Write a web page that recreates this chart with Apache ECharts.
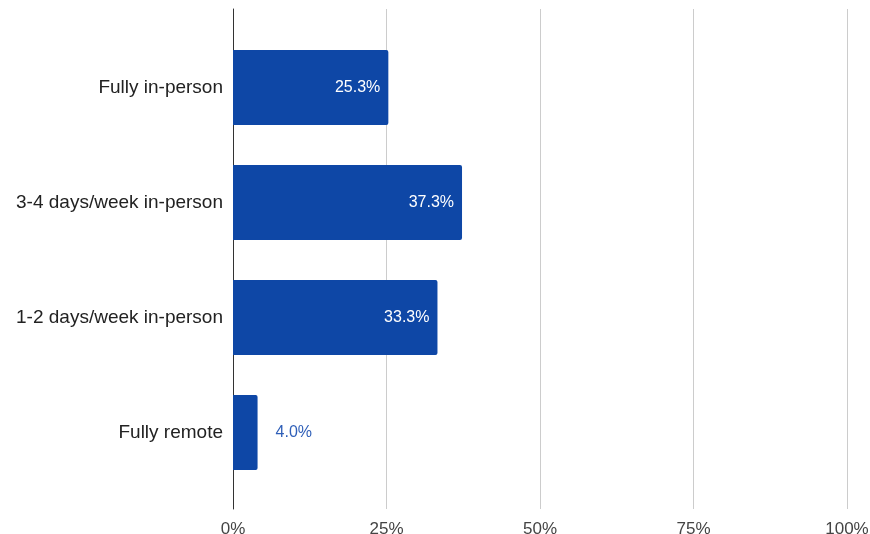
<!DOCTYPE html>
<html>
<head>
<meta charset="utf-8">
<script src="https://cdn.jsdelivr.net/npm/echarts@6/dist/echarts.min.js"></script>
<style>
  html, body { margin: 0; padding: 0; background: #fff; }
  #chart { width: 870px; height: 534px; }
</style>
</head>
<body>
<div id="chart"></div>
<script>
// Work arrangement shares (percent of respondents)
const categories = ['Fully in-person', '3-4 days/week in-person', '1-2 days/week in-person', 'Fully remote'];
const shares = [25.3, 37.3, 33.3, 4.0];
const xTicks = [0, 25, 50, 75, 100];

const barColor = '#0e47a6';
const fontFamily = '"Liberation Sans", Arial, sans-serif';
const insideThreshold = 10;

const chart = echarts.init(document.getElementById('chart'));

chart.setOption({
  animation: false,
  grid: [
    // frame grid: gridlines, vertical baseline and percent ticks
    { left: 233, right: 23, top: 9, bottom: 25, containLabel: false, outerBoundsMode: 'none' },
    // bar grid
    { left: 233, right: 23, top: 30, bottom: 44, containLabel: false, outerBoundsMode: 'none' }
  ],
  xAxis: [
    {
      gridIndex: 0, type: 'value', min: xTicks[0], max: xTicks[xTicks.length - 1],
      interval: xTicks[1] - xTicks[0],
      axisLine: { show: false }, axisTick: { show: false },
      splitLine: { show: true, lineStyle: { color: '#cccccc', width: 1 } },
      axisLabel: { formatter: '{value}%', color: '#444444', fontSize: 17, fontFamily: fontFamily, margin: 12 }
    },
    {
      gridIndex: 1, type: 'value', min: xTicks[0], max: xTicks[xTicks.length - 1],
      show: false
    }
  ],
  yAxis: [
    {
      gridIndex: 0, type: 'category', data: [''],
      axisLine: { show: true, onZero: false, lineStyle: { color: '#333333', width: 1 } },
      axisTick: { show: false }, axisLabel: { show: false }, splitLine: { show: false }
    },
    {
      gridIndex: 1, type: 'category', data: categories, inverse: true,
      axisLine: { show: false }, axisTick: { show: false }, splitLine: { show: false },
      axisLabel: { color: '#222222', fontSize: 19, fontFamily: fontFamily, margin: 10 }
    }
  ],
  series: [
    {
      type: 'bar',
      xAxisIndex: 1, yAxisIndex: 1,
      barWidth: 75,
      data: shares.map(v => ({
        value: v,
        label: v >= insideThreshold
          ? { position: 'insideRight', distance: 8, color: '#ffffff' }
          : { position: 'right', distance: 18, color: '#2f5fb8' }
      })),
      itemStyle: { color: barColor, borderRadius: [0, 2, 2, 0] },
      label: {
        show: true,
        fontSize: 16,
        fontFamily: fontFamily,
        formatter: p => p.value.toFixed(1) + '%'
      }
    }
  ]
});
</script>
</body>
</html>
